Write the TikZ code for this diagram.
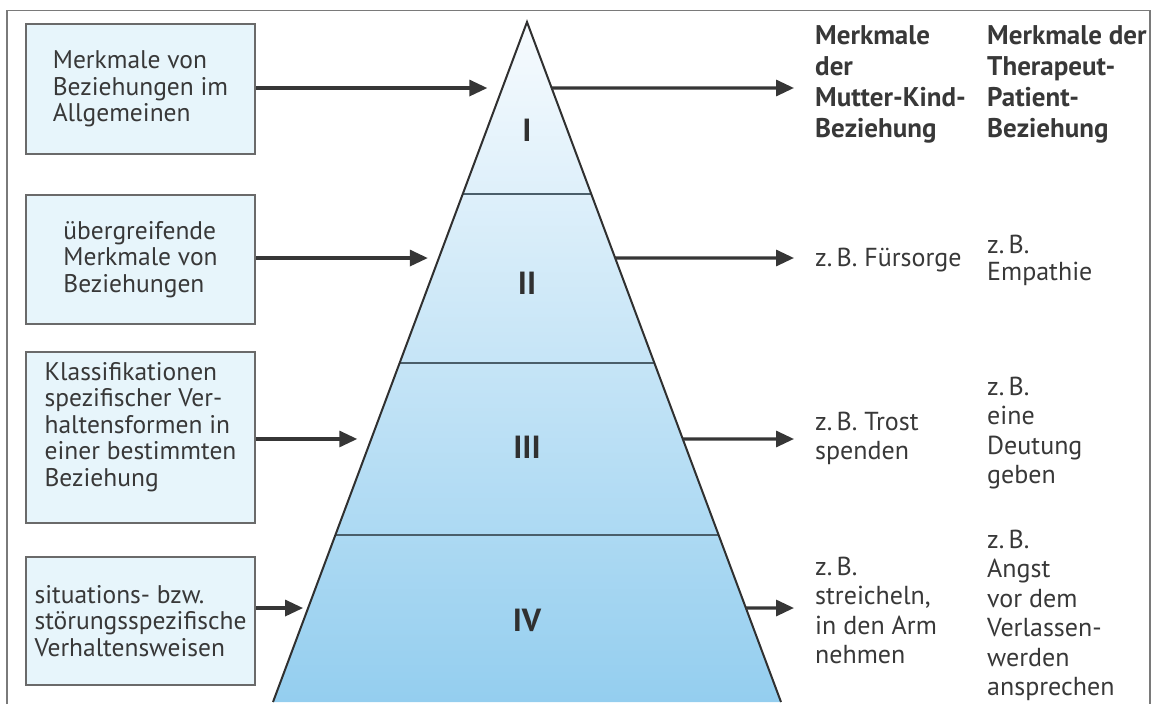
\documentclass[tikz,border=0pt]{standalone}
\usepackage{fontspec}
\setmainfont{PT Sans}
\usetikzlibrary{arrows.meta,calc}
\definecolor{boxfill}{HTML}{E7F5FB}
\definecolor{boxline}{HTML}{6A6A6A}
\definecolor{txt}{HTML}{383838}
\definecolor{arr}{HTML}{363636}
\definecolor{framec}{HTML}{7A7A7A}
\definecolor{pyrtop}{HTML}{F7FBFE}
\definecolor{pyrbot}{HTML}{94CEEF}
\definecolor{divline}{HTML}{4A5E6A}
\definecolor{pyrline}{HTML}{303030}
\begin{document}
\begin{tikzpicture}[x=1pt,y=-1pt,
  lbox/.style={draw=boxline,line width=1.6pt,fill=boxfill,minimum width=229pt,align=left,text=txt,inner sep=0pt,font=\fontsize{25.5}{26.5}\selectfont},
  conn/.style={draw=arr,line width=3.2pt,-{Triangle[length=18pt,width=16pt]}},
  roman/.style={font=\fontsize{32}{32}\selectfont\bfseries,text=pyrline},
  rtext/.style={anchor=base west,align=left,text=txt,inner sep=0pt,font=\fontsize{26}{29.5}\selectfont},
  rhead/.style={anchor=base west,align=left,text=txt,inner sep=0pt,font=\fontsize{27}{31}\selectfont\bfseries}]
\useasboundingbox (0,0) rectangle (1153,704);
% frame
\draw[framec,line width=1.5pt] (7,704) -- (7,10.5) -- (1150,10.5) -- (1150,704);
% pyramid
\coordinate (apex) at (527,22);
\coordinate (bl) at (273,702);
\coordinate (br) at (781,702);
\shade[top color=pyrtop,bottom color=pyrbot] (apex) -- (br) -- (bl) -- cycle;
\draw[divline,line width=1.8pt] ($(apex)!0.2529!(bl)$) -- ($(apex)!0.2529!(br)$);
\draw[divline,line width=1.8pt] ($(apex)!0.5015!(bl)$) -- ($(apex)!0.5015!(br)$);
\draw[divline,line width=1.8pt] ($(apex)!0.7544!(bl)$) -- ($(apex)!0.7544!(br)$);
\draw[pyrline,line width=2pt,line join=miter] (bl) -- (apex) -- (br);
\node[roman] (r1) at (527,130) {I};
\node[roman] (r2) at (527,283) {II};
\node[roman] (r3) at (527,447) {III};
\node[roman] (r4) at (527,620) {IV};
% left boxes
\node[lbox,minimum height=130pt] (b1) at (140.5,89) {Merkmale von\\Beziehungen im\\Allgemeinen};
\node[lbox,minimum height=129pt] (b2) at (140.5,259.5) {übergreifende\\Merkmale von\\Beziehungen};
\node[lbox,minimum height=171pt] (b3) at (140.5,437.5) {Klassifikationen\\spezifischer Ver-\\haltensformen in\\einer bestimmten\\Beziehung\\\mbox{}};
\node[lbox,minimum height=128pt] (b4) at (140.5,621) {situations- bzw.\\störungsspezifische\\Verhaltensweisen};
% pyramid edge points
\coordinate (l1) at ($(apex)!0.0971!(bl)+(-15,0)$);
\coordinate (l2) at ($(apex)!0.3471!(bl)+(-11,0)$);
\coordinate (l3) at ($(apex)!0.6132!(bl)+(-14,0)$);
\coordinate (l4) at ($(apex)!0.8618!(bl)+(-5,0)$);
\coordinate (e1) at ($(apex)!0.0971!(br)$);
\coordinate (e2) at ($(apex)!0.3471!(br)$);
\coordinate (e3) at ($(apex)!0.6132!(br)$);
\coordinate (e4) at ($(apex)!0.8618!(br)$);
\coordinate (t1) at (794,88);
\coordinate (t2) at (794,258);
\coordinate (t3) at (794,439);
\coordinate (t4) at (794,608);
% arrows
\draw[conn] (b1.east |- l1) -- (l1);
\draw[conn] (b2.east |- l2) -- (l2);
\draw[conn] (b3.east |- l3) -- (l3);
\draw[conn] (b4.east |- l4) -- (l4);
\draw[conn] (e1) -- (t1);
\draw[conn] (e2) -- (t2);
\draw[conn] (e3) -- (t3);
\draw[conn] (e4) -- (t4);
% right columns (base anchor = baseline of last line)
\node[rhead] (h1) at (815,137) {Merkmale\\der\\Mutter-Kind-\\Beziehung};
\node[rhead] (h2) at (987,137) {Merkmale der\\Therapeut-\\Patient-\\Beziehung};
\node[rtext] (m2) at (815,266) {z.\,B. Fürsorge};
\node[rtext] (p2) at (987,280) {z.\,B.\\[-2.5pt]Empathie};
\node[rtext] (m3) at (815,459.5) {z.\,B. Trost\\spenden};
\node[rtext] (p3) at (987,483.5) {z.\,B.\\eine\\Deutung\\geben};
\node[rtext] (m4) at (815,663.5) {z.\,B.\\streicheln,\\in den Arm\\nehmen};
\node[rtext] (p4) at (987,695.5) {z.\,B.\\Angst\\vor dem\\Verlassen-\\werden\\ansprechen};
\end{tikzpicture}
\end{document}
